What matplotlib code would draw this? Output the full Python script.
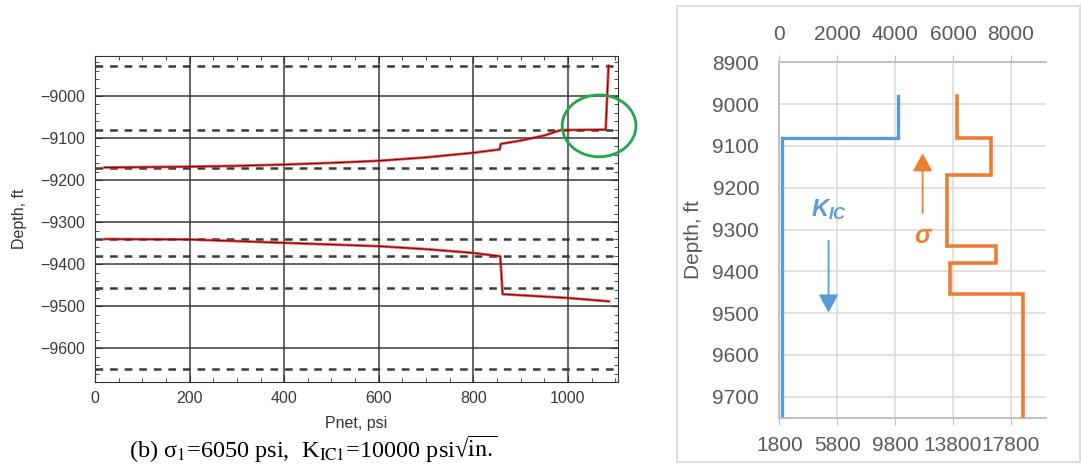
import matplotlib.pyplot as plt
from matplotlib.patches import Ellipse, Rectangle
from matplotlib.ticker import MultipleLocator

plt.rcParams['font.family'] = ['Liberation Sans', 'DejaVu Sans']
plt.rcParams['lines.scale_dashes'] = False
plt.rcParams['mathtext.fontset'] = 'custom'
plt.rcParams['mathtext.it'] = 'Liberation Sans:italic:bold'
plt.rcParams['mathtext.rm'] = 'Liberation Sans:bold'

# left: fracture tip depth vs net pressure
upper_pnet = [20, 100, 200, 300, 400, 500, 600, 700, 800, 856, 858, 900, 950, 985, 1080, 1086]
upper_depth = [-9170, -9169, -9168, -9166, -9163, -9159, -9154, -9146, -9135, -9127, -9114,
               -9106, -9094, -9081, -9080, -8928]
lower_pnet = [20, 200, 400, 600, 700, 800, 857, 862, 1000, 1087]
lower_depth = [-9340, -9341, -9349, -9357, -9364, -9373, -9381, -9471, -9480, -9488]
layer_lines = [-8928, -9080, -9170, -9340, -9380, -9456, -9650]
circle_at = (1066, -9071)

# right: stress / toughness profile
kic_bounds = [8980, 9080, 9750]
kic_vals = [10000, 2000]
sig_bounds = [8980, 9080, 9170, 9340, 9380, 9455, 9750]
sig_vals = [6150, 7300, 5800, 7500, 5900, 8400]

W, H = 1081, 473
fig = plt.figure(figsize=(W / 100, H / 100), dpi=100)

# ---- left panel ----
ax = fig.add_axes([95 / W, 1 - 381.7 / H, (618 - 95) / W, (381.7 - 56) / H])
ax.set_xlim(0, 1106)
ax.set_ylim(-9679, -8905)
ax.xaxis.set_major_locator(MultipleLocator(200))
ax.xaxis.set_minor_locator(MultipleLocator(50))
ax.yaxis.set_major_locator(MultipleLocator(100))
ax.yaxis.set_minor_locator(MultipleLocator(20))
ax.grid(True, which='major', color='#3a3a3a', lw=1.1, zorder=1)
for y in layer_lines:
    ax.axhline(y, color='#3a3a3a', lw=1.8, dashes=(5.5, 5), zorder=2)
for xs, ys in [(upper_pnet, upper_depth), (lower_pnet, lower_depth)]:
    ax.plot(xs, ys, color='#e0282a', lw=2.0, alpha=0.8, zorder=3)
    ax.plot(xs, ys, color='#7a0000', lw=0.7, zorder=4)
ax.add_patch(Ellipse(circle_at, 156, 147, fill=False, ec='#1fa84a', lw=2, clip_on=False, zorder=5))
ax.tick_params(which='both', direction='in', top=True, right=True, colors='#333333',
               labelcolor='#3a3a3a', labelsize=11.5)
ax.tick_params(which='major', length=5)
ax.tick_params(which='minor', length=3)
ax.tick_params(axis='y', pad=7)
ax.tick_params(axis='x', pad=7)
for s in ax.spines.values():
    s.set_color('#333333')
ax.set_xlabel('Pnet, psi', fontsize=11.5, color='#333333')
ax.set_ylabel('Depth, ft', fontsize=11.5, color='#333333')
ax.xaxis.set_label_coords(0.5, -0.105)
ax.yaxis.set_label_coords(-0.13, 0.5)

fig.text(313 / W, 1 - 449 / H,
         r'(b) σ$_\mathrm{1}$=6050 psi,  K$_\mathrm{IC1}$=10000 psi√$\overline{\mathrm{in.}}$',
         family='Liberation Serif', math_fontfamily='stix', fontsize=17.5,
         ha='center', va='center')

# ---- right panel ----
fig.patches.append(Rectangle((677 / W, 1 - 462 / H), (1080 - 677) / W, (462 - 6) / H,
                             transform=fig.transFigure, fill=False, ec='#d9d9d9', lw=1.3))

gray = '#595959'
blue = '#5b9bd5'
orange = '#ed7d31'
rax = fig.add_axes([779.3 / W, 1 - 417.7 / H, (1045.7 - 779.3) / W, (417.7 - 62.3) / H])
rax.set_xlim(1800, 20200)
rax.set_ylim(9750, 8900)
rax.set_xticks([1800, 5800, 9800, 13800, 17800])
rax.yaxis.set_major_locator(MultipleLocator(100))
rax.grid(True, color='#d9d9d9', lw=1.1)
rax.set_axisbelow(True)

kx, ky = [], []
for i, v in enumerate(kic_vals):
    kx += [v, v]
    ky += [kic_bounds[i], kic_bounds[i + 1]]
rax.plot(kx, ky, color=blue, lw=2.4, solid_joinstyle='miter', zorder=3)

sax = rax.twiny()
sax.set_xlim(0, 9200)
sax.set_xticks([0, 2000, 4000, 6000, 8000])
sx, sy = [], []
for i, v in enumerate(sig_vals):
    sx += [v, v]
    sy += [sig_bounds[i], sig_bounds[i + 1]]
sax.plot(sx, sy, color=orange, lw=2.6, solid_joinstyle='miter', zorder=3)

for a in (rax, sax):
    for name, s in a.spines.items():
        s.set_color('#bfbfbf')
        s.set_linewidth(1.1)
    a.spines['right'].set_visible(False)
rax.tick_params(axis='x', direction='out', length=5, color='#bfbfbf', labelcolor=gray,
                labelsize=15, pad=8)
rax.tick_params(axis='y', length=0, labelcolor=gray, labelsize=15, pad=14.5)
sax.tick_params(axis='x', direction='out', length=5, color='#bfbfbf', labelcolor=gray,
                labelsize=15, pad=8)
rax.set_ylabel('Depth, ft', fontsize=15, color=gray)
rax.yaxis.set_label_coords(-0.286, 0.5)

sax.text(1700, 9253, r'$K_{IC}$', color=blue, fontsize=17, ha='center', va='center')
sax.annotate('', xy=(1700, 9505), xytext=(1700, 9320),
             arrowprops=dict(arrowstyle='-|>,head_width=0.3,head_length=0.55',
                             mutation_scale=20, color=blue, lw=1.3))
sax.text(4950, 9316, 'σ', color=orange, fontsize=18, fontweight='bold', fontstyle='italic',
         ha='center', va='center')
sax.annotate('', xy=(4950, 9111), xytext=(4950, 9267),
             arrowprops=dict(arrowstyle='-|>,head_width=0.3,head_length=0.55',
                             mutation_scale=20, color=orange, lw=1.3))

fig.savefig('out.png', dpi=100)
